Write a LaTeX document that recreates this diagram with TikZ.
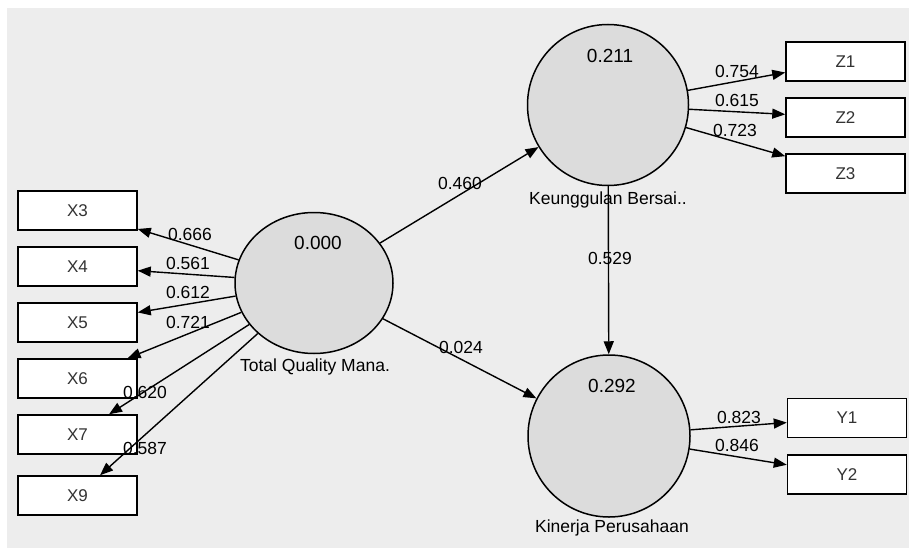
\documentclass[tikz,border=0pt]{standalone}
\usepackage{fontspec}
\setmainfont{Liberation Sans}
\usetikzlibrary{arrows.meta,shapes.geometric}
\definecolor{bggray}{HTML}{EDEDED}
\definecolor{lvfill}{HTML}{DCDCDC}
\begin{document}
\begin{tikzpicture}[x=1pt,y=-1pt,
  lv/.style={draw=black,line width=1.5pt,fill=lvfill,circle,inner sep=0pt,minimum size=#1},
  mv/.style={draw=black,line width=1.5pt,fill=white,rectangle,minimum width=119pt,minimum height=39pt,inner sep=0pt,font=\fontsize{17}{19}\selectfont,text=black!80},
  con/.style={line width=1.4pt,-{Triangle[length=13pt,width=10pt]}},
  coef/.style={font=\fontsize{17.5}{19}\selectfont,inner sep=0pt},
  rsq/.style={font=\fontsize{19}{21}\selectfont,inner sep=0pt},
  lvname/.style={font=\fontsize{17.5}{19}\selectfont,inner sep=0pt}]
\useasboundingbox (0,0) rectangle (909,559);
\fill[white] (0,0) rectangle (909,559);
\fill[bggray] (7,8) rectangle (909,548);
% latent variables
\node[draw=black,line width=1.5pt,fill=lvfill,ellipse,inner sep=0pt,minimum width=158pt,minimum height=141pt] (tqm) at (314,283) {};
\node[lv=161pt] (ku) at (608,105) {};
\node[lv=162pt] (kp) at (609,436) {};
% indicators
\node[mv] (x3) at (77.5,210.5) {X3};
\node[mv] (x4) at (77.5,266.5) {X4};
\node[mv] (x5) at (77.5,322.5) {X5};
\node[mv] (x6) at (77.5,378.5) {X6};
\node[mv] (x7) at (77.5,434.5) {X7};
\node[mv] (x9) at (77.5,495.5) {X9};
\node[mv] (z1) at (845.5,61.5) {Z1};
\node[mv] (z2) at (845.5,117.5) {Z2};
\node[mv] (z3) at (845.5,173.5) {Z3};
\node[mv] (y1) at (847,418) {Y1};
\node[mv] (y2) at (847,474.5) {Y2};
% connectors
\foreach \t in {x3,x4,x5,x6,x7,x9} \draw[con] (tqm) -- (\t);
\foreach \t in {z1,z2,z3} \draw[con] (ku) -- (\t);
\foreach \t in {y1,y2} \draw[con] (kp) -- (\t);
\draw[con] (tqm) -- (ku);
\draw[con] (tqm) -- (kp);
\draw[con] (ku) -- (kp);
% R-square values
\node[rsq] (r1) at (318,243) {0.000};
\node[rsq] (r2) at (610,56) {0.211};
\node[rsq] (r3) at (612,386) {0.292};
% names
\node[lvname] (n1) at (315,367) {Total Quality Mana.};
\node[lvname] (n2) at (608,200) {Keunggulan Bersai..};
\node[lvname] (n3) at (612,528) {Kinerja Perusahaan};
% coefficients
\node[coef] (c1) at (190,234) {0.666};
\node[coef] (c2) at (188,263) {0.561};
\node[coef] (c3) at (188,292) {0.612};
\node[coef] (c4) at (188,322) {0.721};
\node[coef] (c5) at (145,392) {0.620};
\node[coef] (c6) at (145,448) {0.587};
\node[coef] (c7) at (460,183) {0.460};
\node[coef] (c8) at (461,347) {0.024};
\node[coef] (c9) at (610,258) {0.529};
\node[coef] (c10) at (737,71) {0.754};
\node[coef] (c11) at (737,100) {0.615};
\node[coef] (c12) at (735,130) {0.723};
\node[coef] (c13) at (739,417) {0.823};
\node[coef] (c14) at (737,445) {0.846};
\end{tikzpicture}
\end{document}
